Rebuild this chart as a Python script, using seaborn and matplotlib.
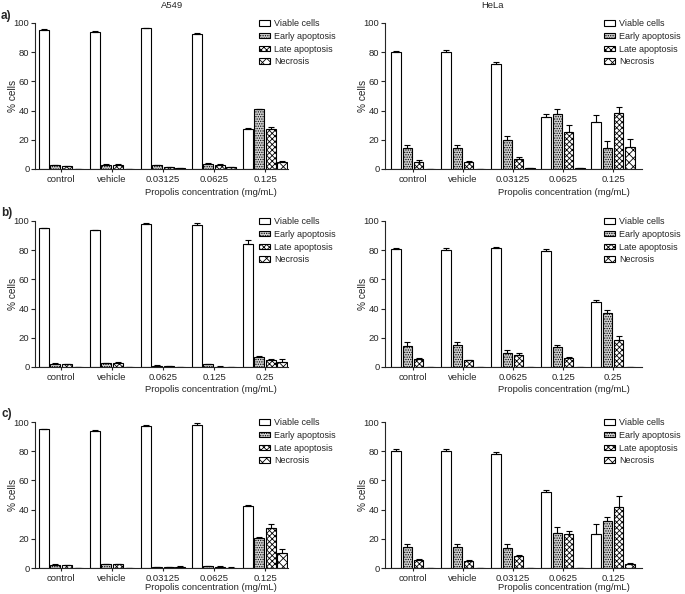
import matplotlib
matplotlib.use('Agg')
import matplotlib.pyplot as plt
import numpy as np
import pandas as pd
import seaborn as sns

cell_types = ['Viable cells', 'Early apoptosis', 'Late apoptosis', 'Necrosis']
conc_ac = ['control', 'vehicle', '0.03125', '0.0625', '0.125']
conc_b = ['control', 'vehicle', '0.0625', '0.125', '0.25']

# row a
a549_a_viable = [95.5, 93.9, 96.4, 92.3, 27.5]
a549_a_early = [2.5, 3.0, 2.5, 3.6, 41.0]
a549_a_late = [2.0, 3.0, 1.5, 3.0, 27.5]
a549_a_necrosis = [0.0, 0.0, 0.4, 1.2, 4.8]
a549_a_err = [[0.4, 0.3, 0.4, 0.6, 0.6], [0.3, 0.3, 0.3, 0.4, 0.4],
              [0.3, 0.3, 0.2, 0.3, 1.0], [0.0, 0.0, 0.1, 0.2, 0.4]]

hela_a_viable = [80.0, 80.0, 71.8, 35.5, 32.0]
hela_a_early = [14.1, 14.5, 20.2, 37.5, 14.1]
hela_a_late = [5.0, 4.8, 6.8, 25.2, 38.4]
hela_a_necrosis = [0.0, 0.0, 0.5, 0.8, 14.8]
hela_a_err = [[1.0, 1.2, 1.3, 2.0, 5.0], [2.3, 2.1, 2.2, 3.4, 4.8],
              [1.0, 0.4, 1.5, 4.8, 4.2], [0.0, 0.0, 0.1, 0.1, 5.9]]

# row b
a549_b_viable = [95.0, 93.8, 97.7, 97.3, 84.5]
a549_b_early = [2.3, 2.7, 1.0, 1.8, 7.0]
a549_b_late = [1.8, 2.7, 0.5, 0.3, 5.0]
a549_b_necrosis = [0.0, 0.0, 0.3, 0.2, 3.6]
a549_b_err = [[0.4, 0.3, 0.9, 1.0, 2.5], [0.3, 0.3, 0.2, 0.2, 0.6],
              [0.3, 0.4, 0.1, 0.1, 0.4], [0.0, 0.0, 0.0, 0.0, 1.8]]

hela_b_viable = [80.6, 80.2, 81.3, 79.7, 44.4]
hela_b_early = [14.6, 14.8, 9.3, 13.4, 36.7]
hela_b_late = [5.2, 4.8, 8.4, 6.4, 18.2]
hela_b_necrosis = [0.0, 0.0, 0.0, 0.0, 0.0]
hela_b_err = [[0.9, 1.1, 0.7, 0.9, 1.2], [2.3, 2.1, 2.1, 1.6, 2.3],
              [0.9, 0.3, 0.9, 0.3, 3.2], [0.0, 0.0, 0.0, 0.0, 0.0]]

# row c
a549_c_viable = [95.0, 94.0, 97.3, 97.7, 42.2]
a549_c_early = [2.3, 2.7, 0.8, 1.5, 20.3]
a549_c_late = [1.8, 2.7, 0.8, 1.0, 27.4]
a549_c_necrosis = [0.0, 0.0, 0.8, 0.3, 10.0]
a549_c_err = [[0.4, 0.3, 0.9, 1.5, 1.2], [0.3, 0.3, 0.2, 0.2, 0.7],
              [0.3, 0.3, 0.2, 0.2, 3.0], [0.0, 0.0, 0.7, 0.1, 3.0]]

hela_c_viable = [80.2, 79.8, 78.0, 52.3, 23.4]
hela_c_early = [14.3, 14.3, 13.6, 23.9, 32.5]
hela_c_late = [5.7, 5.0, 8.2, 23.0, 41.6]
hela_c_necrosis = [0.0, 0.0, 0.3, 0.3, 3.0]
hela_c_err = [[1.2, 1.6, 1.5, 1.1, 6.8], [2.3, 2.3, 2.5, 4.1, 2.3],
              [0.7, 0.4, 0.4, 2.2, 7.9], [0.0, 0.0, 0.0, 0.0, 0.4]]

FACES = ['white', '#cfcfcf', 'white', 'white']
HATCHES = [None, '.......', 'xxxxxx', 'xxxx']
FS = 6.8
LEG_FS = 6.5

sns.set_style('ticks')
plt.rcParams['font.family'] = ['Liberation Sans', 'DejaVu Sans']
plt.rcParams['hatch.linewidth'] = 0.6


def long_frame(cats, series):
    rows = []
    for t, vals in zip(cell_types, series):
        for c, v in zip(cats, vals):
            rows.append({'conc': c, 'type': t, 'value': v})
    return pd.DataFrame(rows)


def plot_panel(ax, cats, series, errs, xlim, legend_at, xlab_y):
    df = long_frame(cats, series)
    sns.barplot(data=df, x='conc', y='value', hue='type', order=cats,
                hue_order=cell_types, palette=FACES, edgecolor='black',
                linewidth=0.8, width=0.9, gap=0.15, errorbar=None,
                legend=False, ax=ax)
    for cont, hatch, vals, err in zip(ax.containers, HATCHES, series, errs):
        xs = []
        for p in cont.patches:
            if hatch:
                p.set_hatch(hatch)
            xs.append(p.get_x() + p.get_width() / 2)
        err = np.array(err)
        ax.errorbar(xs, vals, yerr=[np.zeros_like(err), err], fmt='none',
                    ecolor='black', elinewidth=0.8, capsize=2.2,
                    capthick=0.8)
    ax.set_ylim(0, 100)
    ax.set_xlim(*xlim)
    ax.set_yticks([0, 20, 40, 60, 80, 100])
    sns.despine(ax=ax)
    for s in ('left', 'bottom'):
        ax.spines[s].set_linewidth(0.8)
    ax.tick_params(axis='y', length=3, width=0.8, labelsize=FS, pad=1)
    ax.tick_params(axis='x', length=2, width=0.8, labelsize=FS, pad=2)
    ax.set_ylabel('% cells', fontsize=FS + 0.5)
    ax.set_xlabel('Propolis concentration (mg/mL)', fontsize=FS)
    ax.yaxis.set_label_coords(-0.066, 0.5)
    ax.xaxis.set_label_coords(0.695, xlab_y)
    ax.legend(ax.containers, cell_types, loc='upper left',
              bbox_to_anchor=legend_at, bbox_transform=ax.figure.transFigure,
              frameon=False, fontsize=LEG_FS, handlelength=1.25,
              handleheight=0.55, handletextpad=0.4, labelspacing=0.42,
              borderpad=0, borderaxespad=0)


W, H = 685, 594
fig = plt.figure(figsize=(W / 100, H / 100), dpi=100)

rows = [
    (23, 169, -0.13, conc_ac, [a549_a_viable, a549_a_early, a549_a_late, a549_a_necrosis], a549_a_err,
     [hela_a_viable, hela_a_early, hela_a_late, hela_a_necrosis], hela_a_err),
    (221, 367, -0.123, conc_b, [a549_b_viable, a549_b_early, a549_b_late, a549_b_necrosis], a549_b_err,
     [hela_b_viable, hela_b_early, hela_b_late, hela_b_necrosis], hela_b_err),
    (422, 568, -0.103, conc_ac, [a549_c_viable, a549_c_early, a549_c_late, a549_c_necrosis], a549_c_err,
     [hela_c_viable, hela_c_early, hela_c_late, hela_c_necrosis], hela_c_err),
]

for top, bottom, xly, cats, s1, e1, s2, e2 in rows:
    ax1 = fig.add_axes([35 / W, 1 - bottom / H, 253 / W, (bottom - top) / H])
    plot_panel(ax1, cats, s1, e1, (-0.51, 4.45), (259 / W, 1 - (top - 4) / H), xly)
    ax2 = fig.add_axes([385 / W, 1 - bottom / H, 257 / W, (bottom - top) / H])
    plot_panel(ax2, cats, s2, e2, (-0.56, 4.58), (604 / W, 1 - (top - 4) / H), xly)

fig.text(172 / W, 1 - 6 / H, 'A549', ha='center', va='center', fontsize=FS)
fig.text(493 / W, 1 - 6 / H, 'HeLa', ha='center', va='center', fontsize=FS)
for lab, y in [('a)', 16), ('b)', 213), ('c)', 414)]:
    fig.text(1 / W, 1 - y / H, lab, ha='left', va='center', fontsize=8.5,
             fontweight='bold')

fig.savefig('out.png', dpi=100)
